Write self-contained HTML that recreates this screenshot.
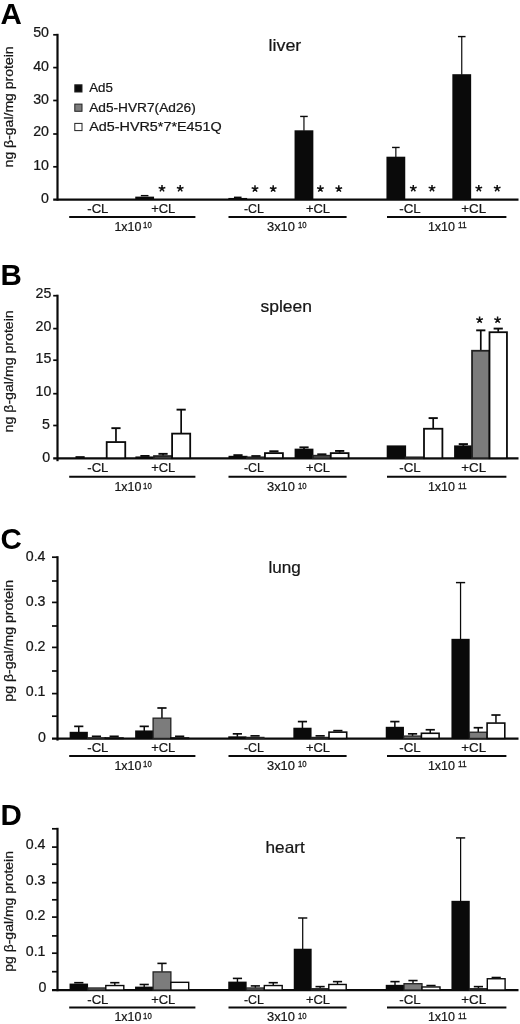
<!DOCTYPE html>
<html><head><meta charset="utf-8"><title>Figure</title>
<style>html,body{margin:0;padding:0;background:#fff;}svg{display:block;will-change:transform;}</style>
</head><body>
<svg width="520" height="1024" viewBox="0 0 520 1024" font-family='"Liberation Sans", sans-serif'>
<rect width="520" height="1024" fill="#fff"/>
<text x="0.4" y="24.2" font-size="29.5" font-weight="bold" fill="#000">A</text>
<text x="268.5" y="50.8" font-size="16.5" fill="#161616" stroke="#161616" stroke-width="0.22" textLength="32.8" lengthAdjust="spacingAndGlyphs">liver</text>
<line x1="57.5" y1="33.8" x2="57.5" y2="200.6" stroke="#0a0a0a" stroke-width="2.2"/>
<line x1="53.2" y1="199.6" x2="518.5" y2="199.6" stroke="#0a0a0a" stroke-width="2.2"/>
<line x1="53.2" y1="166.8" x2="57.5" y2="166.8" stroke="#0a0a0a" stroke-width="1.7"/>
<line x1="53.2" y1="134" x2="57.5" y2="134" stroke="#0a0a0a" stroke-width="1.7"/>
<line x1="53.2" y1="100.5" x2="57.5" y2="100.5" stroke="#0a0a0a" stroke-width="1.7"/>
<line x1="53.2" y1="67.6" x2="57.5" y2="67.6" stroke="#0a0a0a" stroke-width="1.7"/>
<line x1="53.2" y1="34.8" x2="57.5" y2="34.8" stroke="#0a0a0a" stroke-width="1.7"/>
<text x="49" y="202.8" font-size="14.2" text-anchor="end" fill="#161616" stroke="#161616" stroke-width="0.22">0</text>
<text x="49" y="169.6" font-size="14.2" text-anchor="end" fill="#161616" stroke="#161616" stroke-width="0.22">10</text>
<text x="49" y="136.4" font-size="14.2" text-anchor="end" fill="#161616" stroke="#161616" stroke-width="0.22">20</text>
<text x="49" y="104" font-size="14.2" text-anchor="end" fill="#161616" stroke="#161616" stroke-width="0.22">30</text>
<text x="49" y="71.3" font-size="14.2" text-anchor="end" fill="#161616" stroke="#161616" stroke-width="0.22">40</text>
<text x="49" y="36.9" font-size="14.2" text-anchor="end" fill="#161616" stroke="#161616" stroke-width="0.22">50</text>
<text transform="translate(12.7,167.4) rotate(-90)" font-size="12" fill="#161616" stroke="#161616" stroke-width="0.22" textLength="121" lengthAdjust="spacingAndGlyphs">ng β-gal/mg protein</text>
<line x1="140.85" y1="195.64" x2="148.45" y2="195.64" stroke="#0a0a0a" stroke-width="1.4"/>
<rect x="135.25" y="196.63" width="18.8" height="2.97" fill="#0a0a0a"/>
<line x1="233.95" y1="197.29" x2="241.55" y2="197.29" stroke="#0a0a0a" stroke-width="1.4"/>
<rect x="228.35" y="197.95" width="18.8" height="1.65" fill="#0a0a0a"/>
<line x1="303.95" y1="130.8" x2="303.95" y2="116.44" stroke="#0a0a0a" stroke-width="1.2"/>
<line x1="300.15" y1="116.44" x2="307.75" y2="116.44" stroke="#0a0a0a" stroke-width="1.4"/>
<rect x="294.55" y="130.3" width="18.8" height="69.3" fill="#0a0a0a"/>
<line x1="395.85" y1="157.2" x2="395.85" y2="147.46" stroke="#0a0a0a" stroke-width="1.2"/>
<line x1="392.05" y1="147.46" x2="399.65" y2="147.46" stroke="#0a0a0a" stroke-width="1.4"/>
<rect x="386.45" y="156.7" width="18.8" height="42.9" fill="#0a0a0a"/>
<line x1="461.75" y1="74.7" x2="461.75" y2="36.58" stroke="#0a0a0a" stroke-width="1.2"/>
<line x1="457.95" y1="36.58" x2="465.55" y2="36.58" stroke="#0a0a0a" stroke-width="1.4"/>
<rect x="452.35" y="74.2" width="18.8" height="125.4" fill="#0a0a0a"/>
<path d="M162 188.5L162 185M162 188.5L165.33 187.42M162 188.5L164.06 191.33M162 188.5L159.94 191.33M162 188.5L158.67 187.42" stroke="#111" stroke-width="1.5" stroke-linecap="butt" fill="none"/>
<path d="M180.2 188.5L180.2 185M180.2 188.5L183.53 187.42M180.2 188.5L182.26 191.33M180.2 188.5L178.14 191.33M180.2 188.5L176.87 187.42" stroke="#111" stroke-width="1.5" stroke-linecap="butt" fill="none"/>
<path d="M255 188.8L255 185.3M255 188.8L258.33 187.72M255 188.8L257.06 191.63M255 188.8L252.94 191.63M255 188.8L251.67 187.72" stroke="#111" stroke-width="1.5" stroke-linecap="butt" fill="none"/>
<path d="M273.2 188.8L273.2 185.3M273.2 188.8L276.53 187.72M273.2 188.8L275.26 191.63M273.2 188.8L271.14 191.63M273.2 188.8L269.87 187.72" stroke="#111" stroke-width="1.5" stroke-linecap="butt" fill="none"/>
<path d="M320.4 188.8L320.4 185.3M320.4 188.8L323.73 187.72M320.4 188.8L322.46 191.63M320.4 188.8L318.34 191.63M320.4 188.8L317.07 187.72" stroke="#111" stroke-width="1.5" stroke-linecap="butt" fill="none"/>
<path d="M338.8 188.8L338.8 185.3M338.8 188.8L342.13 187.72M338.8 188.8L340.86 191.63M338.8 188.8L336.74 191.63M338.8 188.8L335.47 187.72" stroke="#111" stroke-width="1.5" stroke-linecap="butt" fill="none"/>
<path d="M413.3 188.4L413.3 184.9M413.3 188.4L416.63 187.32M413.3 188.4L415.36 191.23M413.3 188.4L411.24 191.23M413.3 188.4L409.97 187.32" stroke="#111" stroke-width="1.5" stroke-linecap="butt" fill="none"/>
<path d="M432 188.4L432 184.9M432 188.4L435.33 187.32M432 188.4L434.06 191.23M432 188.4L429.94 191.23M432 188.4L428.67 187.32" stroke="#111" stroke-width="1.5" stroke-linecap="butt" fill="none"/>
<path d="M478.8 188.4L478.8 184.9M478.8 188.4L482.13 187.32M478.8 188.4L480.86 191.23M478.8 188.4L476.74 191.23M478.8 188.4L475.47 187.32" stroke="#111" stroke-width="1.5" stroke-linecap="butt" fill="none"/>
<path d="M497.2 188.4L497.2 184.9M497.2 188.4L500.53 187.32M497.2 188.4L499.26 191.23M497.2 188.4L495.14 191.23M497.2 188.4L493.87 187.32" stroke="#111" stroke-width="1.5" stroke-linecap="butt" fill="none"/>
<text x="87.3" y="213.1" font-size="13" fill="#161616" stroke="#161616" stroke-width="0.22" textLength="21.1" lengthAdjust="spacingAndGlyphs">-CL</text>
<text x="151.2" y="213.1" font-size="13" fill="#161616" stroke="#161616" stroke-width="0.22" textLength="24.1" lengthAdjust="spacingAndGlyphs">+CL</text>
<text x="243.9" y="213.1" font-size="13" fill="#161616" stroke="#161616" stroke-width="0.22" textLength="19.9" lengthAdjust="spacingAndGlyphs">-CL</text>
<text x="305.9" y="213.1" font-size="13" fill="#161616" stroke="#161616" stroke-width="0.22" textLength="24.1" lengthAdjust="spacingAndGlyphs">+CL</text>
<text x="399.3" y="213.1" font-size="13" fill="#161616" stroke="#161616" stroke-width="0.22" textLength="21.4" lengthAdjust="spacingAndGlyphs">-CL</text>
<text x="461.3" y="213.1" font-size="13" fill="#161616" stroke="#161616" stroke-width="0.22" textLength="24.8" lengthAdjust="spacingAndGlyphs">+CL</text>
<line x1="69.2" y1="216.9" x2="195.4" y2="216.9" stroke="#0a0a0a" stroke-width="2.0"/>
<line x1="228.5" y1="216.9" x2="346.6" y2="216.9" stroke="#0a0a0a" stroke-width="2.0"/>
<line x1="387" y1="216.9" x2="506.4" y2="216.9" stroke="#0a0a0a" stroke-width="2.0"/>
<text x="114.4" y="230.6" font-size="12.9" fill="#161616" stroke="#161616" stroke-width="0.22" textLength="27.1" lengthAdjust="spacingAndGlyphs">1x10</text>
<text x="143.1" y="228" font-size="9.3" fill="#161616" stroke="#161616" stroke-width="0.3" textLength="8.6" lengthAdjust="spacingAndGlyphs">10</text>
<text x="267" y="230.6" font-size="12.9" fill="#161616" stroke="#161616" stroke-width="0.22">3x10</text>
<text x="297.9" y="228" font-size="9.3" fill="#161616" stroke="#161616" stroke-width="0.3" textLength="8.6" lengthAdjust="spacingAndGlyphs">10</text>
<text x="427.9" y="230.6" font-size="12.9" fill="#161616" stroke="#161616" stroke-width="0.22" textLength="27.1" lengthAdjust="spacingAndGlyphs">1x10</text>
<text x="457.9" y="228" font-size="8.4" fill="#161616" stroke="#161616" stroke-width="0.3">11</text>
<rect x="74.8" y="84.8" width="7.2" height="7.2" fill="#0a0a0a" stroke="#222" stroke-width="1"/>
<text x="89.2" y="92.3" font-size="12.5" fill="#161616" stroke="#161616" stroke-width="0.22" textLength="23.7" lengthAdjust="spacingAndGlyphs">Ad5</text>
<rect x="74.8" y="104.1" width="7.2" height="7.2" fill="#7c7c7c" stroke="#222" stroke-width="1"/>
<text x="89.2" y="111.6" font-size="12.5" fill="#161616" stroke="#161616" stroke-width="0.22" textLength="106.5" lengthAdjust="spacingAndGlyphs">Ad5-HVR7(Ad26)</text>
<rect x="74.8" y="123.4" width="7.2" height="7.2" fill="#fff" stroke="#222" stroke-width="1"/>
<text x="89.2" y="130.9" font-size="12.5" fill="#161616" stroke="#161616" stroke-width="0.22" textLength="132.6" lengthAdjust="spacingAndGlyphs">Ad5-HVR5*7*E451Q</text>
<text x="0.4" y="284.8" font-size="29.5" font-weight="bold" fill="#000">B</text>
<text x="260.5" y="311.6" font-size="16.5" fill="#161616" stroke="#161616" stroke-width="0.22" textLength="51.5" lengthAdjust="spacingAndGlyphs">spleen</text>
<line x1="57.5" y1="294.7" x2="57.5" y2="461.2" stroke="#0a0a0a" stroke-width="2.2"/>
<line x1="53.2" y1="458.4" x2="518.5" y2="458.4" stroke="#0a0a0a" stroke-width="2.2"/>
<line x1="53.2" y1="425.5" x2="57.5" y2="425.5" stroke="#0a0a0a" stroke-width="1.7"/>
<line x1="53.2" y1="393.7" x2="57.5" y2="393.7" stroke="#0a0a0a" stroke-width="1.7"/>
<line x1="53.2" y1="360.2" x2="57.5" y2="360.2" stroke="#0a0a0a" stroke-width="1.7"/>
<line x1="53.2" y1="328.6" x2="57.5" y2="328.6" stroke="#0a0a0a" stroke-width="1.7"/>
<line x1="53.2" y1="295.7" x2="57.5" y2="295.7" stroke="#0a0a0a" stroke-width="1.7"/>
<text x="50.1" y="461.8" font-size="14.2" text-anchor="end" fill="#161616" stroke="#161616" stroke-width="0.22">0</text>
<text x="50" y="428.7" font-size="14.2" text-anchor="end" fill="#161616" stroke="#161616" stroke-width="0.22">5</text>
<text x="51.3" y="395.8" font-size="14.2" text-anchor="end" fill="#161616" stroke="#161616" stroke-width="0.22">10</text>
<text x="51.3" y="362.5" font-size="14.2" text-anchor="end" fill="#161616" stroke="#161616" stroke-width="0.22">15</text>
<text x="51.3" y="330.6" font-size="14.2" text-anchor="end" fill="#161616" stroke="#161616" stroke-width="0.22">20</text>
<text x="51.3" y="297.5" font-size="14.2" text-anchor="end" fill="#161616" stroke="#161616" stroke-width="0.22">25</text>
<text transform="translate(12.7,432.4) rotate(-90)" font-size="12" fill="#161616" stroke="#161616" stroke-width="0.22" textLength="122.1" lengthAdjust="spacingAndGlyphs">ng β-gal/mg protein</text>
<line x1="80.08" y1="458.9" x2="80.08" y2="457.1" stroke="#0a0a0a" stroke-width="1.7"/>
<line x1="75.48" y1="457.1" x2="84.67" y2="457.1" stroke="#0a0a0a" stroke-width="1.9"/>
<line x1="115.97" y1="441.67" x2="115.97" y2="428.17" stroke="#0a0a0a" stroke-width="1.7"/>
<line x1="111.38" y1="428.17" x2="120.57" y2="428.17" stroke="#0a0a0a" stroke-width="1.9"/>
<rect x="106.7" y="442.07" width="18.55" height="16.12" fill="#fff" stroke="#0a0a0a" stroke-width="1.8"/>
<line x1="140.35" y1="455.93" x2="149.55" y2="455.93" stroke="#0a0a0a" stroke-width="1.9"/>
<rect x="135.4" y="456.45" width="19.1" height="1.95" fill="#0a0a0a"/>
<line x1="163.05" y1="455.65" x2="163.05" y2="453.85" stroke="#0a0a0a" stroke-width="1.7"/>
<line x1="158.45" y1="453.85" x2="167.65" y2="453.85" stroke="#0a0a0a" stroke-width="1.9"/>
<rect x="154" y="456.05" width="18.1" height="2.15" fill="#7c7c7c" stroke="#222" stroke-width="1.8"/>
<line x1="181.15" y1="433.22" x2="181.15" y2="409.65" stroke="#0a0a0a" stroke-width="1.7"/>
<line x1="176.55" y1="409.65" x2="185.75" y2="409.65" stroke="#0a0a0a" stroke-width="1.9"/>
<rect x="172.1" y="433.62" width="18.1" height="24.58" fill="#fff" stroke="#0a0a0a" stroke-width="1.8"/>
<line x1="233.39" y1="455.15" x2="242.59" y2="455.15" stroke="#0a0a0a" stroke-width="1.9"/>
<rect x="228.5" y="455.8" width="18.97" height="2.6" fill="#0a0a0a"/>
<line x1="251.35" y1="456.06" x2="260.56" y2="456.06" stroke="#0a0a0a" stroke-width="1.9"/>
<rect x="246.97" y="457.35" width="17.97" height="0.85" fill="#7c7c7c" stroke="#222" stroke-width="1.8"/>
<line x1="269.32" y1="451.25" x2="278.53" y2="451.25" stroke="#0a0a0a" stroke-width="1.9"/>
<rect x="264.94" y="453.12" width="17.97" height="5.07" fill="#fff" stroke="#0a0a0a" stroke-width="1.8"/>
<line x1="304.02" y1="449.15" x2="304.02" y2="447.35" stroke="#0a0a0a" stroke-width="1.7"/>
<line x1="299.42" y1="447.35" x2="308.62" y2="447.35" stroke="#0a0a0a" stroke-width="1.9"/>
<rect x="294.6" y="448.65" width="18.83" height="9.75" fill="#0a0a0a"/>
<line x1="317.25" y1="454.3" x2="326.45" y2="454.3" stroke="#0a0a0a" stroke-width="1.9"/>
<rect x="312.93" y="455.72" width="17.83" height="2.48" fill="#7c7c7c" stroke="#222" stroke-width="1.8"/>
<line x1="339.68" y1="452.72" x2="339.68" y2="450.92" stroke="#0a0a0a" stroke-width="1.7"/>
<line x1="335.07" y1="450.92" x2="344.28" y2="450.92" stroke="#0a0a0a" stroke-width="1.9"/>
<rect x="330.76" y="453.12" width="17.83" height="5.07" fill="#fff" stroke="#0a0a0a" stroke-width="1.8"/>
<rect x="386.7" y="445.4" width="19.4" height="13" fill="#0a0a0a"/>
<rect x="405.6" y="457.35" width="18.4" height="0.85" fill="#7c7c7c" stroke="#222" stroke-width="1.8"/>
<line x1="433.2" y1="428.35" x2="433.2" y2="418.1" stroke="#0a0a0a" stroke-width="1.7"/>
<line x1="428.6" y1="418.1" x2="437.8" y2="418.1" stroke="#0a0a0a" stroke-width="1.9"/>
<rect x="424" y="428.75" width="18.4" height="29.45" fill="#fff" stroke="#0a0a0a" stroke-width="1.8"/>
<line x1="463.33" y1="445.9" x2="463.33" y2="444.1" stroke="#0a0a0a" stroke-width="1.7"/>
<line x1="458.73" y1="444.1" x2="467.93" y2="444.1" stroke="#0a0a0a" stroke-width="1.9"/>
<rect x="454.1" y="445.4" width="18.45" height="13" fill="#0a0a0a"/>
<line x1="480.78" y1="350.35" x2="480.78" y2="330.35" stroke="#0a0a0a" stroke-width="1.7"/>
<line x1="476.18" y1="330.35" x2="485.38" y2="330.35" stroke="#0a0a0a" stroke-width="1.9"/>
<rect x="472.05" y="350.75" width="17.45" height="107.45" fill="#7c7c7c" stroke="#222" stroke-width="1.8"/>
<line x1="498.23" y1="331.82" x2="498.23" y2="328.59" stroke="#0a0a0a" stroke-width="1.7"/>
<line x1="493.62" y1="328.59" x2="502.83" y2="328.59" stroke="#0a0a0a" stroke-width="1.9"/>
<rect x="489.5" y="332.22" width="17.45" height="125.97" fill="#fff" stroke="#0a0a0a" stroke-width="1.8"/>
<path d="M479.6 319.9L479.6 316.4M479.6 319.9L482.93 318.82M479.6 319.9L481.66 322.73M479.6 319.9L477.54 322.73M479.6 319.9L476.27 318.82" stroke="#111" stroke-width="1.5" stroke-linecap="butt" fill="none"/>
<path d="M497.6 319.9L497.6 316.4M497.6 319.9L500.93 318.82M497.6 319.9L499.66 322.73M497.6 319.9L495.54 322.73M497.6 319.9L494.27 318.82" stroke="#111" stroke-width="1.5" stroke-linecap="butt" fill="none"/>
<text x="87.3" y="472.2" font-size="13" fill="#161616" stroke="#161616" stroke-width="0.22" textLength="21.1" lengthAdjust="spacingAndGlyphs">-CL</text>
<text x="151.2" y="472.2" font-size="13" fill="#161616" stroke="#161616" stroke-width="0.22" textLength="24.1" lengthAdjust="spacingAndGlyphs">+CL</text>
<text x="243.9" y="472.2" font-size="13" fill="#161616" stroke="#161616" stroke-width="0.22" textLength="19.9" lengthAdjust="spacingAndGlyphs">-CL</text>
<text x="305.9" y="472.2" font-size="13" fill="#161616" stroke="#161616" stroke-width="0.22" textLength="24.1" lengthAdjust="spacingAndGlyphs">+CL</text>
<text x="399.3" y="472.2" font-size="13" fill="#161616" stroke="#161616" stroke-width="0.22" textLength="21.4" lengthAdjust="spacingAndGlyphs">-CL</text>
<text x="461.3" y="472.2" font-size="13" fill="#161616" stroke="#161616" stroke-width="0.22" textLength="24.8" lengthAdjust="spacingAndGlyphs">+CL</text>
<line x1="69.2" y1="476.8" x2="195.4" y2="476.8" stroke="#0a0a0a" stroke-width="2.0"/>
<line x1="228.5" y1="476.8" x2="346.6" y2="476.8" stroke="#0a0a0a" stroke-width="2.0"/>
<line x1="387" y1="476.8" x2="506.4" y2="476.8" stroke="#0a0a0a" stroke-width="2.0"/>
<text x="114.4" y="491.1" font-size="12.9" fill="#161616" stroke="#161616" stroke-width="0.22" textLength="27.1" lengthAdjust="spacingAndGlyphs">1x10</text>
<text x="143.1" y="488.5" font-size="9.3" fill="#161616" stroke="#161616" stroke-width="0.3" textLength="8.6" lengthAdjust="spacingAndGlyphs">10</text>
<text x="267" y="491.1" font-size="12.9" fill="#161616" stroke="#161616" stroke-width="0.22">3x10</text>
<text x="297.9" y="488.5" font-size="9.3" fill="#161616" stroke="#161616" stroke-width="0.3" textLength="8.6" lengthAdjust="spacingAndGlyphs">10</text>
<text x="427.9" y="491.1" font-size="12.9" fill="#161616" stroke="#161616" stroke-width="0.22" textLength="27.1" lengthAdjust="spacingAndGlyphs">1x10</text>
<text x="457.9" y="488.5" font-size="8.4" fill="#161616" stroke="#161616" stroke-width="0.3">11</text>
<text x="0.4" y="548.5" font-size="29.5" font-weight="bold" fill="#000">C</text>
<text x="268.5" y="572.5" font-size="16.5" fill="#161616" stroke="#161616" stroke-width="0.22" textLength="32.4" lengthAdjust="spacingAndGlyphs">lung</text>
<line x1="57.5" y1="556.2" x2="57.5" y2="740.6" stroke="#0a0a0a" stroke-width="2.2"/>
<line x1="52" y1="738.6" x2="518.5" y2="738.6" stroke="#0a0a0a" stroke-width="2.2"/>
<line x1="52" y1="716.2" x2="57.5" y2="716.2" stroke="#0a0a0a" stroke-width="1.7"/>
<line x1="52" y1="693.6" x2="57.5" y2="693.6" stroke="#0a0a0a" stroke-width="1.7"/>
<line x1="52" y1="671" x2="57.5" y2="671" stroke="#0a0a0a" stroke-width="1.7"/>
<line x1="52" y1="647.4" x2="57.5" y2="647.4" stroke="#0a0a0a" stroke-width="1.7"/>
<line x1="52" y1="626" x2="57.5" y2="626" stroke="#0a0a0a" stroke-width="1.7"/>
<line x1="52" y1="602.4" x2="57.5" y2="602.4" stroke="#0a0a0a" stroke-width="1.7"/>
<line x1="52" y1="581" x2="57.5" y2="581" stroke="#0a0a0a" stroke-width="1.7"/>
<line x1="52" y1="557.2" x2="57.5" y2="557.2" stroke="#0a0a0a" stroke-width="1.7"/>
<text x="45.9" y="741.8" font-size="14.2" text-anchor="end" fill="#161616" stroke="#161616" stroke-width="0.22">0</text>
<text x="45.5" y="695.6" font-size="14.2" text-anchor="end" fill="#161616" stroke="#161616" stroke-width="0.22">0.1</text>
<text x="45.5" y="650.6" font-size="14.2" text-anchor="end" fill="#161616" stroke="#161616" stroke-width="0.22">0.2</text>
<text x="45.5" y="606" font-size="14.2" text-anchor="end" fill="#161616" stroke="#161616" stroke-width="0.22">0.3</text>
<text x="45.5" y="560.6" font-size="14.2" text-anchor="end" fill="#161616" stroke="#161616" stroke-width="0.22">0.4</text>
<text transform="translate(12.7,701.7) rotate(-90)" font-size="12" fill="#161616" stroke="#161616" stroke-width="0.22" textLength="121.8" lengthAdjust="spacingAndGlyphs">pg β-gal/mg protein</text>
<line x1="78.75" y1="732.3" x2="78.75" y2="726.36" stroke="#0a0a0a" stroke-width="1.5"/>
<line x1="74.15" y1="726.36" x2="83.35" y2="726.36" stroke="#0a0a0a" stroke-width="1.7"/>
<rect x="69.65" y="731.8" width="18.2" height="6.8" fill="#0a0a0a"/>
<line x1="91.85" y1="736.33" x2="101.05" y2="736.33" stroke="#0a0a0a" stroke-width="1.7"/>
<rect x="87.6" y="737.89" width="17.7" height="0.51" fill="#7c7c7c" stroke="#222" stroke-width="1.3"/>
<line x1="109.55" y1="736.33" x2="118.75" y2="736.33" stroke="#0a0a0a" stroke-width="1.7"/>
<rect x="105.3" y="738.04" width="17.7" height="0.36" fill="#fff" stroke="#0a0a0a" stroke-width="1.6"/>
<line x1="144.25" y1="730.94" x2="144.25" y2="726.36" stroke="#0a0a0a" stroke-width="1.5"/>
<line x1="139.65" y1="726.36" x2="148.85" y2="726.36" stroke="#0a0a0a" stroke-width="1.7"/>
<rect x="135.15" y="730.44" width="18.2" height="8.16" fill="#0a0a0a"/>
<line x1="161.95" y1="718.01" x2="161.95" y2="707.99" stroke="#0a0a0a" stroke-width="1.5"/>
<line x1="157.35" y1="707.99" x2="166.55" y2="707.99" stroke="#0a0a0a" stroke-width="1.7"/>
<rect x="153.1" y="718.16" width="17.7" height="20.24" fill="#7c7c7c" stroke="#222" stroke-width="1.3"/>
<line x1="175.05" y1="736.33" x2="184.25" y2="736.33" stroke="#0a0a0a" stroke-width="1.7"/>
<rect x="170.8" y="738.04" width="17.7" height="0.36" fill="#fff" stroke="#0a0a0a" stroke-width="1.6"/>
<line x1="237.35" y1="736.83" x2="237.35" y2="733.84" stroke="#0a0a0a" stroke-width="1.5"/>
<line x1="232.75" y1="733.84" x2="241.95" y2="733.84" stroke="#0a0a0a" stroke-width="1.7"/>
<rect x="228.25" y="736.33" width="18.2" height="2.27" fill="#0a0a0a"/>
<line x1="250.45" y1="735.88" x2="259.65" y2="735.88" stroke="#0a0a0a" stroke-width="1.7"/>
<rect x="246.2" y="737.44" width="17.7" height="0.96" fill="#7c7c7c" stroke="#222" stroke-width="1.3"/>
<line x1="302.45" y1="728.22" x2="302.45" y2="721.59" stroke="#0a0a0a" stroke-width="1.5"/>
<line x1="297.85" y1="721.59" x2="307.05" y2="721.59" stroke="#0a0a0a" stroke-width="1.7"/>
<rect x="293.35" y="727.72" width="18.2" height="10.88" fill="#0a0a0a"/>
<line x1="315.55" y1="735.88" x2="324.75" y2="735.88" stroke="#0a0a0a" stroke-width="1.7"/>
<rect x="311.3" y="737.44" width="17.7" height="0.96" fill="#7c7c7c" stroke="#222" stroke-width="1.3"/>
<line x1="333.25" y1="730.66" x2="342.45" y2="730.66" stroke="#0a0a0a" stroke-width="1.7"/>
<rect x="329" y="732.14" width="17.7" height="6.26" fill="#fff" stroke="#0a0a0a" stroke-width="1.6"/>
<line x1="394.85" y1="727.31" x2="394.85" y2="721.59" stroke="#0a0a0a" stroke-width="1.5"/>
<line x1="390.25" y1="721.59" x2="399.45" y2="721.59" stroke="#0a0a0a" stroke-width="1.7"/>
<rect x="385.75" y="726.81" width="18.2" height="11.79" fill="#0a0a0a"/>
<line x1="412.55" y1="735.93" x2="412.55" y2="733.84" stroke="#0a0a0a" stroke-width="1.5"/>
<line x1="407.95" y1="733.84" x2="417.15" y2="733.84" stroke="#0a0a0a" stroke-width="1.7"/>
<rect x="403.7" y="736.08" width="17.7" height="2.32" fill="#7c7c7c" stroke="#222" stroke-width="1.3"/>
<line x1="430.25" y1="732.98" x2="430.25" y2="729.76" stroke="#0a0a0a" stroke-width="1.5"/>
<line x1="425.65" y1="729.76" x2="434.85" y2="729.76" stroke="#0a0a0a" stroke-width="1.7"/>
<rect x="421.4" y="733.28" width="17.7" height="5.12" fill="#fff" stroke="#0a0a0a" stroke-width="1.6"/>
<line x1="460.55" y1="639.33" x2="460.55" y2="582.6" stroke="#0a0a0a" stroke-width="1.25"/>
<line x1="455.95" y1="582.6" x2="465.15" y2="582.6" stroke="#0a0a0a" stroke-width="1.45"/>
<rect x="451.45" y="638.83" width="18.2" height="99.77" fill="#0a0a0a"/>
<line x1="478.25" y1="732.07" x2="478.25" y2="727.72" stroke="#0a0a0a" stroke-width="1.5"/>
<line x1="473.65" y1="727.72" x2="482.85" y2="727.72" stroke="#0a0a0a" stroke-width="1.7"/>
<rect x="469.4" y="732.22" width="17.7" height="6.18" fill="#7c7c7c" stroke="#222" stroke-width="1.3"/>
<line x1="495.95" y1="722.77" x2="495.95" y2="715.02" stroke="#0a0a0a" stroke-width="1.5"/>
<line x1="491.35" y1="715.02" x2="500.55" y2="715.02" stroke="#0a0a0a" stroke-width="1.7"/>
<rect x="487.1" y="723.07" width="17.7" height="15.33" fill="#fff" stroke="#0a0a0a" stroke-width="1.6"/>
<text x="87.3" y="752.2" font-size="13" fill="#161616" stroke="#161616" stroke-width="0.22" textLength="21.1" lengthAdjust="spacingAndGlyphs">-CL</text>
<text x="151.2" y="752.2" font-size="13" fill="#161616" stroke="#161616" stroke-width="0.22" textLength="24.1" lengthAdjust="spacingAndGlyphs">+CL</text>
<text x="243.9" y="752.2" font-size="13" fill="#161616" stroke="#161616" stroke-width="0.22" textLength="19.9" lengthAdjust="spacingAndGlyphs">-CL</text>
<text x="305.9" y="752.2" font-size="13" fill="#161616" stroke="#161616" stroke-width="0.22" textLength="24.1" lengthAdjust="spacingAndGlyphs">+CL</text>
<text x="399.3" y="752.2" font-size="13" fill="#161616" stroke="#161616" stroke-width="0.22" textLength="21.4" lengthAdjust="spacingAndGlyphs">-CL</text>
<text x="461.3" y="752.2" font-size="13" fill="#161616" stroke="#161616" stroke-width="0.22" textLength="24.8" lengthAdjust="spacingAndGlyphs">+CL</text>
<line x1="69.2" y1="756" x2="195.4" y2="756" stroke="#0a0a0a" stroke-width="2.0"/>
<line x1="228.5" y1="756" x2="346.6" y2="756" stroke="#0a0a0a" stroke-width="2.0"/>
<line x1="387" y1="756" x2="506.4" y2="756" stroke="#0a0a0a" stroke-width="2.0"/>
<text x="114.4" y="769.5" font-size="12.9" fill="#161616" stroke="#161616" stroke-width="0.22" textLength="27.1" lengthAdjust="spacingAndGlyphs">1x10</text>
<text x="143.1" y="766.9" font-size="9.3" fill="#161616" stroke="#161616" stroke-width="0.3" textLength="8.6" lengthAdjust="spacingAndGlyphs">10</text>
<text x="267" y="769.5" font-size="12.9" fill="#161616" stroke="#161616" stroke-width="0.22">3x10</text>
<text x="297.9" y="766.9" font-size="9.3" fill="#161616" stroke="#161616" stroke-width="0.3" textLength="8.6" lengthAdjust="spacingAndGlyphs">10</text>
<text x="427.9" y="769.5" font-size="12.9" fill="#161616" stroke="#161616" stroke-width="0.22" textLength="27.1" lengthAdjust="spacingAndGlyphs">1x10</text>
<text x="457.9" y="766.9" font-size="8.4" fill="#161616" stroke="#161616" stroke-width="0.3">11</text>
<text x="0.4" y="825" font-size="29.5" font-weight="bold" fill="#000">D</text>
<text x="265.5" y="853" font-size="16.5" fill="#161616" stroke="#161616" stroke-width="0.22" textLength="39.2" lengthAdjust="spacingAndGlyphs">heart</text>
<line x1="57.5" y1="827.8" x2="57.5" y2="991.2" stroke="#0a0a0a" stroke-width="2.2"/>
<line x1="52" y1="990.2" x2="518.5" y2="990.2" stroke="#0a0a0a" stroke-width="2.2"/>
<line x1="52" y1="971.7" x2="57.5" y2="971.7" stroke="#0a0a0a" stroke-width="1.7"/>
<line x1="52" y1="953.2" x2="57.5" y2="953.2" stroke="#0a0a0a" stroke-width="1.7"/>
<line x1="52" y1="935.9" x2="57.5" y2="935.9" stroke="#0a0a0a" stroke-width="1.7"/>
<line x1="52" y1="917.1" x2="57.5" y2="917.1" stroke="#0a0a0a" stroke-width="1.7"/>
<line x1="52" y1="899.8" x2="57.5" y2="899.8" stroke="#0a0a0a" stroke-width="1.7"/>
<line x1="52" y1="882.7" x2="57.5" y2="882.7" stroke="#0a0a0a" stroke-width="1.7"/>
<line x1="52" y1="864.2" x2="57.5" y2="864.2" stroke="#0a0a0a" stroke-width="1.7"/>
<line x1="52" y1="847.1" x2="57.5" y2="847.1" stroke="#0a0a0a" stroke-width="1.7"/>
<line x1="52" y1="828.8" x2="57.5" y2="828.8" stroke="#0a0a0a" stroke-width="1.7"/>
<text x="46.5" y="992.1" font-size="14.2" text-anchor="end" fill="#161616" stroke="#161616" stroke-width="0.22">0</text>
<text x="45.5" y="956.1" font-size="14.2" text-anchor="end" fill="#161616" stroke="#161616" stroke-width="0.22">0.1</text>
<text x="45.5" y="920.3" font-size="14.2" text-anchor="end" fill="#161616" stroke="#161616" stroke-width="0.22">0.2</text>
<text x="45.5" y="884.6" font-size="14.2" text-anchor="end" fill="#161616" stroke="#161616" stroke-width="0.22">0.3</text>
<text x="45.5" y="848.8" font-size="14.2" text-anchor="end" fill="#161616" stroke="#161616" stroke-width="0.22">0.4</text>
<text transform="translate(12.7,971.8) rotate(-90)" font-size="12" fill="#161616" stroke="#161616" stroke-width="0.22" textLength="120.8" lengthAdjust="spacingAndGlyphs">pg β-gal/mg protein</text>
<line x1="74.2" y1="982.69" x2="83.4" y2="982.69" stroke="#0a0a0a" stroke-width="1.5999999999999999"/>
<rect x="69.55" y="983.59" width="18.5" height="6.61" fill="#0a0a0a"/>
<rect x="87.8" y="987.99" width="18" height="2.01" fill="#7c7c7c" stroke="#222" stroke-width="1.3"/>
<line x1="114.8" y1="985.34" x2="114.8" y2="982.69" stroke="#0a0a0a" stroke-width="1.4"/>
<line x1="110.2" y1="982.69" x2="119.4" y2="982.69" stroke="#0a0a0a" stroke-width="1.5999999999999999"/>
<rect x="105.8" y="985.54" width="18" height="4.46" fill="#fff" stroke="#0a0a0a" stroke-width="1.4"/>
<line x1="144.2" y1="987.12" x2="144.2" y2="984.48" stroke="#0a0a0a" stroke-width="1.4"/>
<line x1="139.6" y1="984.48" x2="148.8" y2="984.48" stroke="#0a0a0a" stroke-width="1.5999999999999999"/>
<rect x="135.05" y="986.62" width="18.3" height="3.58" fill="#0a0a0a"/>
<line x1="162" y1="971.75" x2="162" y2="963.39" stroke="#0a0a0a" stroke-width="1.4"/>
<line x1="157.4" y1="963.39" x2="166.6" y2="963.39" stroke="#0a0a0a" stroke-width="1.5999999999999999"/>
<rect x="153.1" y="971.9" width="17.8" height="18.1" fill="#7c7c7c" stroke="#222" stroke-width="1.3"/>
<rect x="170.9" y="982.32" width="17.8" height="7.68" fill="#fff" stroke="#0a0a0a" stroke-width="1.4"/>
<line x1="237.45" y1="982.12" x2="237.45" y2="978.4" stroke="#0a0a0a" stroke-width="1.4"/>
<line x1="232.85" y1="978.4" x2="242.05" y2="978.4" stroke="#0a0a0a" stroke-width="1.5999999999999999"/>
<rect x="228.25" y="981.62" width="18.4" height="8.58" fill="#0a0a0a"/>
<line x1="255.35" y1="987.84" x2="255.35" y2="985.91" stroke="#0a0a0a" stroke-width="1.4"/>
<line x1="250.75" y1="985.91" x2="259.95" y2="985.91" stroke="#0a0a0a" stroke-width="1.5999999999999999"/>
<rect x="246.4" y="987.99" width="17.9" height="2.01" fill="#7c7c7c" stroke="#222" stroke-width="1.3"/>
<line x1="273.25" y1="985.34" x2="273.25" y2="982.69" stroke="#0a0a0a" stroke-width="1.4"/>
<line x1="268.65" y1="982.69" x2="277.85" y2="982.69" stroke="#0a0a0a" stroke-width="1.5999999999999999"/>
<rect x="264.3" y="985.54" width="17.9" height="4.46" fill="#fff" stroke="#0a0a0a" stroke-width="1.4"/>
<line x1="302.7" y1="949.23" x2="302.7" y2="917.99" stroke="#0a0a0a" stroke-width="1.25"/>
<line x1="298.1" y1="917.99" x2="307.3" y2="917.99" stroke="#0a0a0a" stroke-width="1.45"/>
<rect x="293.75" y="948.73" width="17.9" height="41.47" fill="#0a0a0a"/>
<line x1="320.1" y1="988.56" x2="320.1" y2="986.62" stroke="#0a0a0a" stroke-width="1.4"/>
<line x1="315.5" y1="986.62" x2="324.7" y2="986.62" stroke="#0a0a0a" stroke-width="1.5999999999999999"/>
<rect x="311.4" y="988.71" width="17.4" height="1.3" fill="#7c7c7c" stroke="#222" stroke-width="1.3"/>
<line x1="337.5" y1="984.27" x2="337.5" y2="981.62" stroke="#0a0a0a" stroke-width="1.4"/>
<line x1="332.9" y1="981.62" x2="342.1" y2="981.62" stroke="#0a0a0a" stroke-width="1.5999999999999999"/>
<rect x="328.8" y="984.47" width="17.4" height="5.53" fill="#fff" stroke="#0a0a0a" stroke-width="1.4"/>
<line x1="395" y1="985.34" x2="395" y2="981.62" stroke="#0a0a0a" stroke-width="1.4"/>
<line x1="390.4" y1="981.62" x2="399.6" y2="981.62" stroke="#0a0a0a" stroke-width="1.5999999999999999"/>
<rect x="385.75" y="984.84" width="18.5" height="5.36" fill="#0a0a0a"/>
<line x1="413" y1="983.55" x2="413" y2="980.55" stroke="#0a0a0a" stroke-width="1.4"/>
<line x1="408.4" y1="980.55" x2="417.6" y2="980.55" stroke="#0a0a0a" stroke-width="1.5999999999999999"/>
<rect x="404" y="983.7" width="18" height="6.3" fill="#7c7c7c" stroke="#222" stroke-width="1.3"/>
<line x1="426.4" y1="985.55" x2="435.6" y2="985.55" stroke="#0a0a0a" stroke-width="1.5999999999999999"/>
<rect x="422" y="986.97" width="18" height="3.03" fill="#fff" stroke="#0a0a0a" stroke-width="1.4"/>
<line x1="460.6" y1="901.33" x2="460.6" y2="837.91" stroke="#0a0a0a" stroke-width="1.25"/>
<line x1="456" y1="837.91" x2="465.2" y2="837.91" stroke="#0a0a0a" stroke-width="1.45"/>
<rect x="451.45" y="900.83" width="18.3" height="89.38" fill="#0a0a0a"/>
<line x1="478.4" y1="988.56" x2="478.4" y2="986.62" stroke="#0a0a0a" stroke-width="1.4"/>
<line x1="473.8" y1="986.62" x2="483" y2="986.62" stroke="#0a0a0a" stroke-width="1.5999999999999999"/>
<rect x="469.5" y="988.71" width="17.8" height="1.3" fill="#7c7c7c" stroke="#222" stroke-width="1.3"/>
<line x1="491.6" y1="977.51" x2="500.8" y2="977.51" stroke="#0a0a0a" stroke-width="1.5999999999999999"/>
<rect x="487.3" y="978.75" width="17.8" height="11.26" fill="#fff" stroke="#0a0a0a" stroke-width="1.4"/>
<text x="87.3" y="1003.8" font-size="13" fill="#161616" stroke="#161616" stroke-width="0.22" textLength="21.1" lengthAdjust="spacingAndGlyphs">-CL</text>
<text x="151.2" y="1003.8" font-size="13" fill="#161616" stroke="#161616" stroke-width="0.22" textLength="24.1" lengthAdjust="spacingAndGlyphs">+CL</text>
<text x="243.9" y="1003.8" font-size="13" fill="#161616" stroke="#161616" stroke-width="0.22" textLength="19.9" lengthAdjust="spacingAndGlyphs">-CL</text>
<text x="305.9" y="1003.8" font-size="13" fill="#161616" stroke="#161616" stroke-width="0.22" textLength="24.1" lengthAdjust="spacingAndGlyphs">+CL</text>
<text x="399.3" y="1003.8" font-size="13" fill="#161616" stroke="#161616" stroke-width="0.22" textLength="21.4" lengthAdjust="spacingAndGlyphs">-CL</text>
<text x="461.3" y="1003.8" font-size="13" fill="#161616" stroke="#161616" stroke-width="0.22" textLength="24.8" lengthAdjust="spacingAndGlyphs">+CL</text>
<line x1="69.2" y1="1007.6" x2="195.4" y2="1007.6" stroke="#0a0a0a" stroke-width="2.0"/>
<line x1="228.5" y1="1007.6" x2="346.6" y2="1007.6" stroke="#0a0a0a" stroke-width="2.0"/>
<line x1="387" y1="1007.6" x2="506.4" y2="1007.6" stroke="#0a0a0a" stroke-width="2.0"/>
<text x="114.4" y="1021.4" font-size="12.9" fill="#161616" stroke="#161616" stroke-width="0.22" textLength="27.1" lengthAdjust="spacingAndGlyphs">1x10</text>
<text x="143.1" y="1018.8" font-size="9.3" fill="#161616" stroke="#161616" stroke-width="0.3" textLength="8.6" lengthAdjust="spacingAndGlyphs">10</text>
<text x="267" y="1021.4" font-size="12.9" fill="#161616" stroke="#161616" stroke-width="0.22">3x10</text>
<text x="297.9" y="1018.8" font-size="9.3" fill="#161616" stroke="#161616" stroke-width="0.3" textLength="8.6" lengthAdjust="spacingAndGlyphs">10</text>
<text x="427.9" y="1021.4" font-size="12.9" fill="#161616" stroke="#161616" stroke-width="0.22" textLength="27.1" lengthAdjust="spacingAndGlyphs">1x10</text>
<text x="457.9" y="1018.8" font-size="8.4" fill="#161616" stroke="#161616" stroke-width="0.3">11</text>
</svg>
</body></html>
